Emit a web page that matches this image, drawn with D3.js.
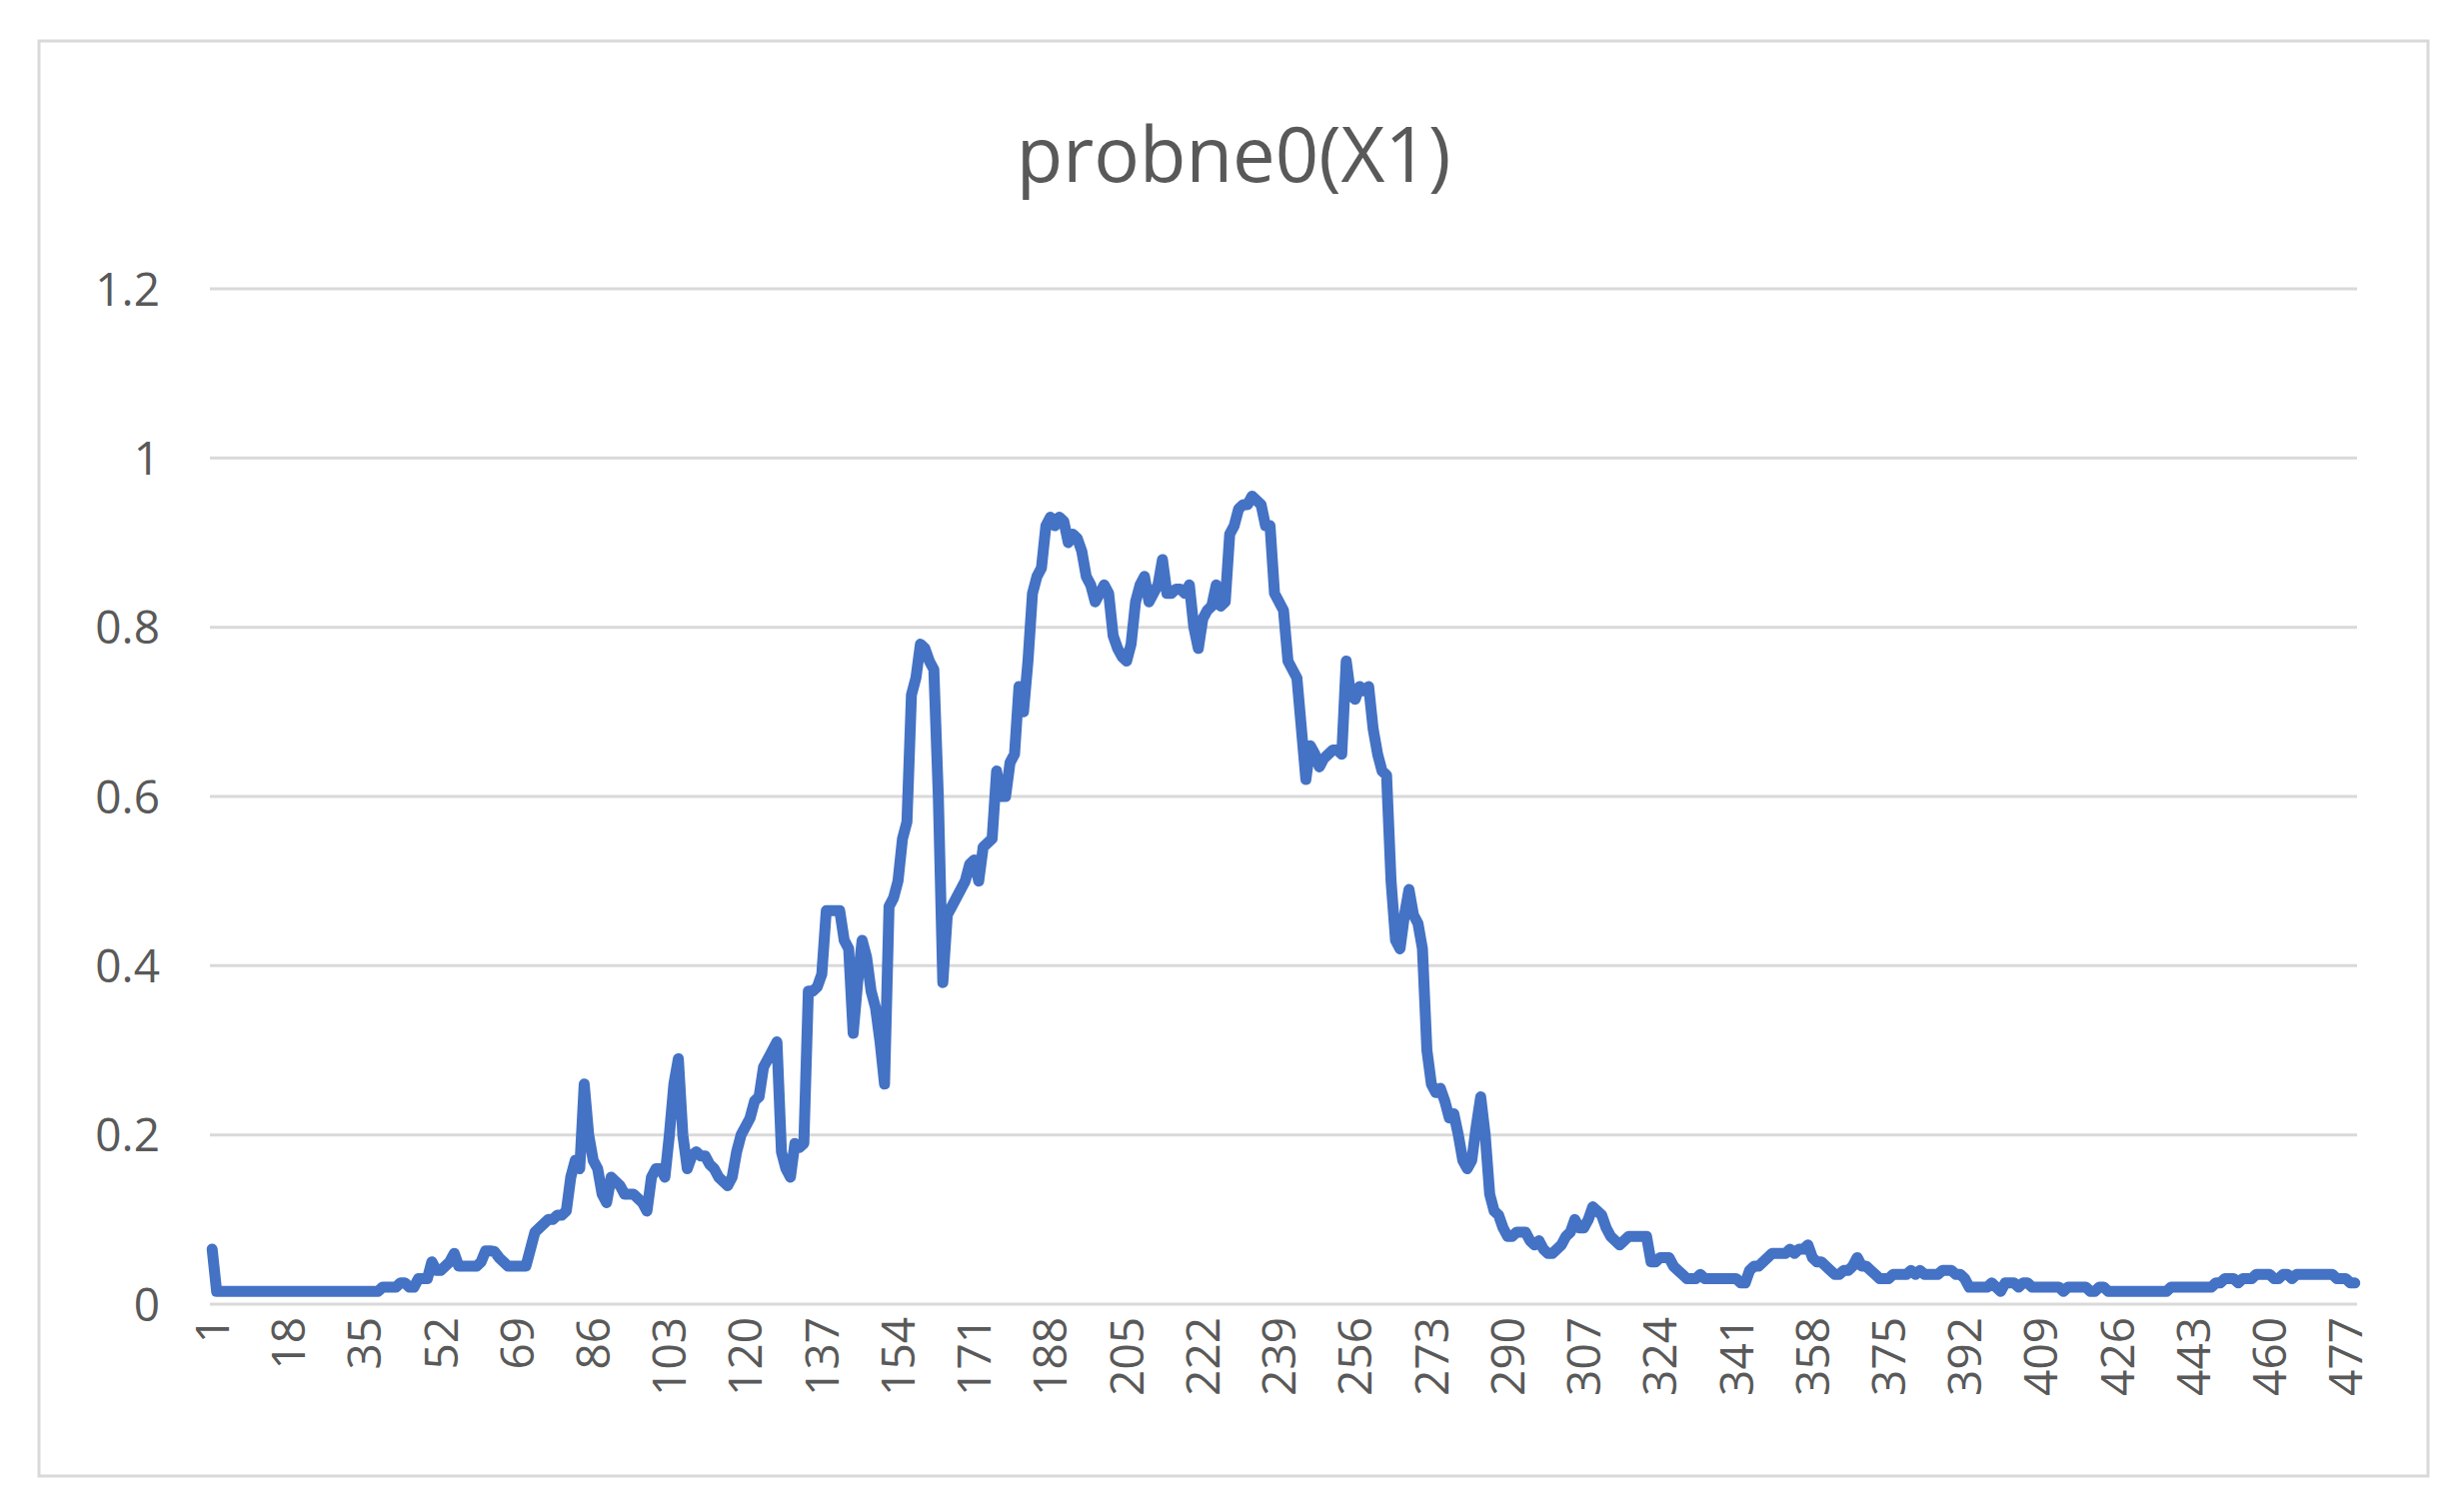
<!DOCTYPE html>
<html><head><meta charset="utf-8">
<script src="https://cdn.jsdelivr.net/npm/d3@7"></script>
<style>body{margin:0;background:#fff}svg{display:block}text{font-family:"Open Sans","Noto Sans",sans-serif;fill:#595959}</style>
</head><body>
<script>
const title = "probne0(X1)";
const yTicks = [0, 0.2, 0.4, 0.6, 0.8, 1, 1.2];
const values = [
0.065,0.015,0.015,0.015,0.015,0.015,0.015,0.015,0.015,0.015,
0.015,0.015,0.015,0.015,0.015,0.015,0.015,0.015,0.015,0.015,
0.015,0.015,0.015,0.015,0.015,0.015,0.015,0.015,0.015,0.015,
0.015,0.015,0.015,0.015,0.015,0.015,0.015,
0.015,0.02,0.02,0.02,0.02,0.025,0.025,0.02,0.02,0.03,0.03,0.03,0.05,
0.04,0.04,0.045,0.05,0.06,0.045,0.045,0.045,0.045,0.045,
0.05,0.063,0.063,0.062,0.055,0.05,0.045,0.045,0.045,0.045,
0.045,0.065,0.085,0.09,0.095,0.1,0.1,0.105,0.105,0.11,
0.15,0.17,0.16,0.26,0.2,0.17,0.16,0.13,0.12,0.15,
0.145,0.14,0.13,0.13,0.13,0.125,0.12,0.11,0.15,0.16,
0.16,0.15,0.2,0.26,0.29,0.2,0.16,0.175,0.18,0.175,
0.175,0.165,0.16,0.15,0.145,0.14,0.15,0.18,0.2,0.21,
0.22,0.24,0.245,0.28,0.29,0.3,0.31,0.18,0.16,0.15,
0.19,0.185,0.19,0.37,0.37,0.375,0.39,0.465,0.465,0.465,
0.465,0.43,0.42,0.32,0.38,0.43,0.41,0.37,0.35,0.31,
0.26,0.47,0.48,0.5,0.55,0.57,0.72,0.74,0.78,0.775,
0.76,0.75,0.6,0.38,0.46,0.47,0.48,0.49,0.5,0.52,
0.525,0.5,0.54,0.545,0.55,0.63,0.6,0.6,0.64,0.65,
0.73,0.7,0.76,0.84,0.86,0.87,0.92,0.93,0.92,0.93,
0.925,0.9,0.91,0.905,0.89,0.86,0.85,0.83,0.84,0.85,
0.84,0.79,0.775,0.765,0.76,0.78,0.83,0.85,0.86,0.83,
0.84,0.85,0.88,0.84,0.84,0.845,0.845,0.84,0.85,0.8,
0.775,0.81,0.82,0.825,0.85,0.825,0.83,0.91,0.92,0.94,
0.945,0.945,0.955,0.95,0.945,0.92,0.92,0.84,0.83,0.82,
0.76,0.75,0.74,0.68,0.62,0.66,0.65,0.635,0.645,0.65,
0.655,0.655,0.65,0.76,0.72,0.715,0.73,0.725,0.73,0.68,
0.65,0.63,0.625,0.5,0.43,0.42,0.46,0.49,0.46,0.45,
0.42,0.3,0.26,0.25,0.255,0.24,0.22,0.225,0.2,0.17,
0.16,0.17,0.21,0.245,0.2,0.13,0.11,0.105,0.09,0.08,
0.08,0.085,0.085,0.085,0.075,0.07,0.075,0.065,0.06,0.06,
0.065,0.07,0.08,0.085,0.1,0.09,0.09,0.1,0.115,0.11,
0.105,0.09,0.08,0.075,0.07,0.075,0.08,0.08,0.08,0.08,
0.08,0.05,0.05,0.055,0.055,0.055,0.045,0.04,0.035,0.03,
0.03,0.03,0.035,0.03,0.03,0.03,0.03,0.03,0.03,0.03,
0.03,0.025,0.025,0.04,0.045,0.045,0.05,0.055,0.06,0.06,
0.06,0.06,0.065,0.06,0.065,0.065,0.07,0.055,0.05,0.05,
0.045,0.04,0.035,0.035,0.04,0.04,0.045,0.055,0.045,0.045,
0.04,0.035,0.03,0.03,0.03,0.035,0.035,0.035,0.035,0.04,
0.035,0.04,0.035,0.035,0.035,0.035,0.04,0.04,0.04,0.035,
0.035,0.03,0.02,0.02,0.02,0.02,0.02,0.025,0.02,0.015,
0.025,0.025,0.025,0.02,0.025,0.025,0.02,0.02,0.02,0.02,
0.02,0.02,0.02,0.015,0.02,0.02,0.02,0.02,0.02,0.015,
0.015,0.02,0.02,0.015,0.015,0.015,0.015,0.015,0.015,0.015,
0.015,0.015,0.015,0.015,0.015,0.015,0.015,0.02,0.02,0.02,
0.02,0.02,0.02,0.02,0.02,0.02,0.02,0.025,0.025,0.03,
0.03,0.03,0.025,0.03,0.03,0.03,0.035,0.035,0.035,0.035,
0.03,0.03,0.035,0.035,0.03,0.035,0.035,0.035,0.035,0.035,
0.035,0.035,0.035,0.035,0.03,0.03,0.03,0.025,0.025
];
const categories = values.map((d,i)=>i+1);
const xTickLabels = categories.filter(c => (c-1)%17===0);

const W=2465,H=1507;
const svg=d3.select("body").append("svg").attr("width",W).attr("height",H);
svg.append("rect").attr("x",39).attr("y",41).attr("width",2390).attr("height",1436)
  .attr("fill","#fff").attr("stroke","#d9d9d9").attr("stroke-width",3);
svg.append("text").attr("x",1234).attr("y",182).attr("text-anchor","middle")
  .style("font-size","76px").text(title);

const x=d3.scalePoint().domain(categories).range([210,2358]).padding(0.5);
const y=d3.scaleLinear().domain([0,1.2]).range([1305,289]);

svg.append("g").selectAll("line").data(yTicks).join("line")
  .attr("x1",210).attr("x2",2358).attr("y1",d=>y(d)).attr("y2",d=>y(d))
  .attr("stroke","#d9d9d9").attr("stroke-width",3);

const ya=svg.append("g").attr("transform","translate(160,0)")
  .call(d3.axisLeft(y).tickValues(yTicks).tickSize(0).tickFormat(d=>String(d)));
ya.select(".domain").remove();
ya.selectAll("text").style("font-size","46px").attr("fill","#595959").attr("dy","0.35em").attr("x",0);

const xa=svg.append("g").attr("transform","translate(0,1318)")
  .call(d3.axisBottom(x).tickValues(xTickLabels).tickSize(0));
xa.select(".domain").remove();
xa.selectAll("text").style("font-size","46px").attr("fill","#595959")
  .attr("transform","rotate(-90)").attr("text-anchor","end").attr("x",0).attr("y",0).attr("dy","0.35em");

svg.append("path").datum(values)
  .attr("d",d3.line().x((d,i)=>x(categories[i])).y(d=>y(d)))
  .attr("fill","none").attr("stroke","#4472C4").attr("stroke-width",11).attr("stroke-linejoin","round").attr("stroke-linecap","round");
</script>
</body></html>
